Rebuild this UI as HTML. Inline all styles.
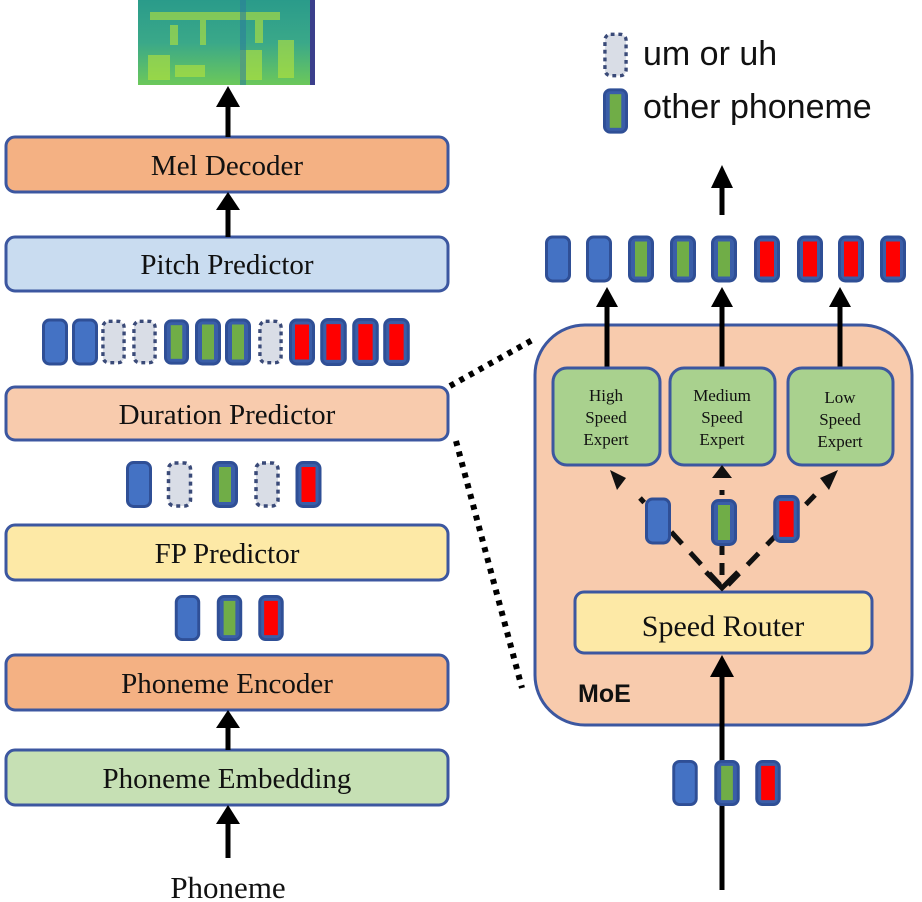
<!DOCTYPE html>
<html><head><meta charset="utf-8"><style>body{margin:0;background:#fff}svg{display:block}</style></head><body>
<svg width="922" height="902" xmlns="http://www.w3.org/2000/svg">
<defs>
<linearGradient id="sp" x1="0" y1="0" x2="0" y2="1"><stop offset="0" stop-color="#2a9b8a"/><stop offset="0.5" stop-color="#3aa889"/><stop offset="1" stop-color="#6cc85a"/></linearGradient>
<symbol id="tb" viewBox="0 0 26 47"><rect x="1.5" y="1.5" width="23" height="44" rx="6" fill="#4472c4" stroke="#2f4f96" stroke-width="3"/></symbol>
<symbol id="tg" viewBox="0 0 26 47"><rect x="1.5" y="1.5" width="23" height="44" rx="6" fill="#3a5ea8" stroke="#2f4f96" stroke-width="3"/><rect x="7" y="6" width="12" height="35" fill="#70ad47"/></symbol>
<symbol id="tr" viewBox="0 0 26 47"><rect x="1.5" y="1.5" width="23" height="44" rx="6" fill="#3a5ea8" stroke="#2f4f96" stroke-width="3"/><rect x="6" y="6" width="14" height="35" fill="#ff0000"/></symbol>
<symbol id="td" viewBox="0 0 26 47"><rect x="2" y="2" width="22" height="43" rx="6" fill="#d9dde6" stroke="#3a4a78" stroke-width="3.5" stroke-dasharray="4 4"/></symbol>
</defs>
<rect x="138" y="0" width="177" height="85" fill="url(#sp)"/>
<g fill="#b8e43a" opacity="0.6">
<rect x="148" y="55" width="22" height="25"/><rect x="175" y="65" width="30" height="12"/><rect x="240" y="50" width="22" height="30"/><rect x="278" y="40" width="16" height="38"/><rect x="150" y="12" width="130" height="8"/><rect x="170" y="25" width="8" height="20"/><rect x="200" y="20" width="6" height="25"/><rect x="255" y="15" width="8" height="28"/>
</g>
<rect x="240" y="0" width="6" height="85" fill="#2c7f9a" opacity="0.6"/>
<rect x="310" y="0" width="5" height="85" fill="#3b3f8c"/>
<g fill="none" stroke="#3c57a0" stroke-width="3">
<rect x="6" y="137" width="442" height="55" rx="9" fill="#f4b183"/>
<rect x="6" y="237" width="442" height="54" rx="9" fill="#c9dcf0"/>
<rect x="6" y="387" width="442" height="53" rx="9" fill="#f8cbad"/>
<rect x="6" y="525" width="442" height="55" rx="9" fill="#fde9a6"/>
<rect x="6" y="655" width="442" height="55" rx="9" fill="#f4b183"/>
<rect x="6" y="750" width="442" height="55" rx="9" fill="#c6e0b4"/>
<rect x="535" y="325" width="377" height="400" rx="50" fill="#f8cbad"/>
</g>
<g stroke="#000" stroke-width="5" fill="none">
<line x1="228" y1="137" x2="228" y2="105"/><line x1="228" y1="237" x2="228" y2="208"/><line x1="228" y1="750" x2="228" y2="726"/><line x1="228" y1="858" x2="228" y2="822"/>
<line x1="607" y1="368" x2="607" y2="305"/><line x1="722" y1="368" x2="722" y2="305"/><line x1="840" y1="368" x2="840" y2="305"/>
<line x1="722" y1="215" x2="722" y2="185"/>
<line x1="722" y1="890" x2="722" y2="675"/>
</g>
<g fill="#000">
<polygon points="216,107 240,107 228,86"/><polygon points="216,210 240,210 228,192"/><polygon points="216,728 240,728 228,710"/><polygon points="216,824 240,824 228,805"/>
<polygon points="596,307 618,307 607,287"/><polygon points="711,307 733,307 722,287"/><polygon points="829,307 851,307 840,287"/>
<polygon points="711,188 733,188 722,165"/><polygon points="710,677 734,677 722,655"/>
</g>
<g font-family="Liberation Serif, serif" font-size="29" text-anchor="middle" fill="#111">
<text x="227" y="175">Mel Decoder</text><text x="227" y="274">Pitch Predictor</text><text x="227" y="424">Duration Predictor</text><text x="227" y="563">FP Predictor</text><text x="227" y="693">Phoneme Encoder</text><text x="227" y="788">Phoneme Embedding</text>
<text x="228" y="898" font-size="31">Phoneme</text>
</g>
<g stroke="#000" stroke-width="6" stroke-dasharray="5 6" fill="none"><line x1="450" y1="386" x2="536" y2="338"/><line x1="456" y1="441" x2="522" y2="688"/></g>
<g fill="none" stroke="#3c57a0" stroke-width="3">
<rect x="553" y="368" width="107" height="97" rx="14" fill="#a9d18e"/>
<rect x="670" y="368" width="105" height="97" rx="14" fill="#a9d18e"/>
<rect x="788" y="368" width="105" height="97" rx="14" fill="#a9d18e"/>
<rect x="575" y="592" width="297" height="61" rx="9" fill="#fde9a6"/>
</g>
<g font-family="Liberation Serif, serif" font-size="17" text-anchor="middle" fill="#111">
<text x="606" y="401">High</text><text x="606" y="423">Speed</text><text x="606" y="445">Expert</text>
<text x="722" y="401">Medium</text><text x="722" y="423">Speed</text><text x="722" y="445">Expert</text>
<text x="840" y="403">Low</text><text x="840" y="425">Speed</text><text x="840" y="447">Expert</text>
<text x="723" y="636" font-size="30">Speed Router</text>
</g>
<text x="578" y="702" font-family="Liberation Sans, sans-serif" font-weight="bold" font-size="25" fill="#111">MoE</text>
<g stroke="#111" stroke-width="5" fill="none">
<line x1="720" y1="585" x2="640" y2="498" stroke-dasharray="16 12"/>
<line x1="728" y1="585" x2="815" y2="495" stroke-dasharray="16 12"/>
<line x1="722" y1="575" x2="722" y2="490" stroke-dasharray="12 8"/>
<polyline points="706,572 722,588 738,572"/>
</g>
<g fill="#111"><polygon points="610,470 626,478 617,490"/><polygon points="712,478 732,478 722,465"/><polygon points="838,470 820,478 829,490"/></g>
<use href="#tb" x="645" y="497" width="26" height="48"/><use href="#tg" x="711" y="499" width="26" height="47"/><use href="#tr" x="773" y="495" width="27" height="48"/>
<g>
<use href="#tb" x="42" y="318" width="26" height="48"/><use href="#tb" x="72" y="318" width="26" height="48"/><use href="#td" x="101" y="318" width="25" height="48"/><use href="#td" x="132" y="318" width="25" height="48"/><use href="#tg" x="164" y="318" width="25" height="48"/><use href="#tg" x="195" y="318" width="26" height="48"/><use href="#tg" x="225" y="318" width="26" height="48"/><use href="#td" x="258" y="318" width="25" height="48"/><use href="#tr" x="289" y="318" width="26" height="48"/><use href="#tr" x="320" y="318" width="27" height="48"/><use href="#tr" x="352" y="318" width="27" height="48"/><use href="#tr" x="383" y="318" width="27" height="48"/>
<use href="#tb" x="126" y="461" width="26" height="47"/><use href="#td" x="166" y="461" width="27" height="47"/><use href="#tg" x="212" y="461" width="26" height="47"/><use href="#td" x="254" y="461" width="26" height="47"/><use href="#tr" x="295" y="461" width="27" height="47"/>
<use href="#tb" x="174" y="595" width="27" height="46"/><use href="#tg" x="216" y="595" width="27" height="46"/><use href="#tr" x="258" y="595" width="26" height="46"/>
<use href="#tb" x="545" y="235" width="26" height="48"/><use href="#tb" x="586" y="235" width="26" height="48"/><use href="#tg" x="628" y="235" width="26" height="48"/><use href="#tg" x="670" y="235" width="26" height="48"/><use href="#tg" x="711" y="235" width="26" height="48"/><use href="#tr" x="754" y="235" width="26" height="48"/><use href="#tr" x="797" y="235" width="26" height="48"/><use href="#tr" x="838" y="235" width="26" height="48"/><use href="#tr" x="880" y="235" width="26" height="48"/>
<use href="#tb" x="672" y="760" width="26" height="46"/><use href="#tg" x="714" y="760" width="26" height="46"/><use href="#tr" x="755" y="760" width="26" height="46"/>
<use href="#td" x="603" y="32" width="25" height="46"/><use href="#tg" x="603" y="88" width="25" height="46"/>
</g>
<g font-family="Liberation Sans, sans-serif" font-size="34" fill="#111"><text x="643" y="65">um or uh</text><text x="643" y="118">other phoneme</text></g>
</svg>
</body></html>
